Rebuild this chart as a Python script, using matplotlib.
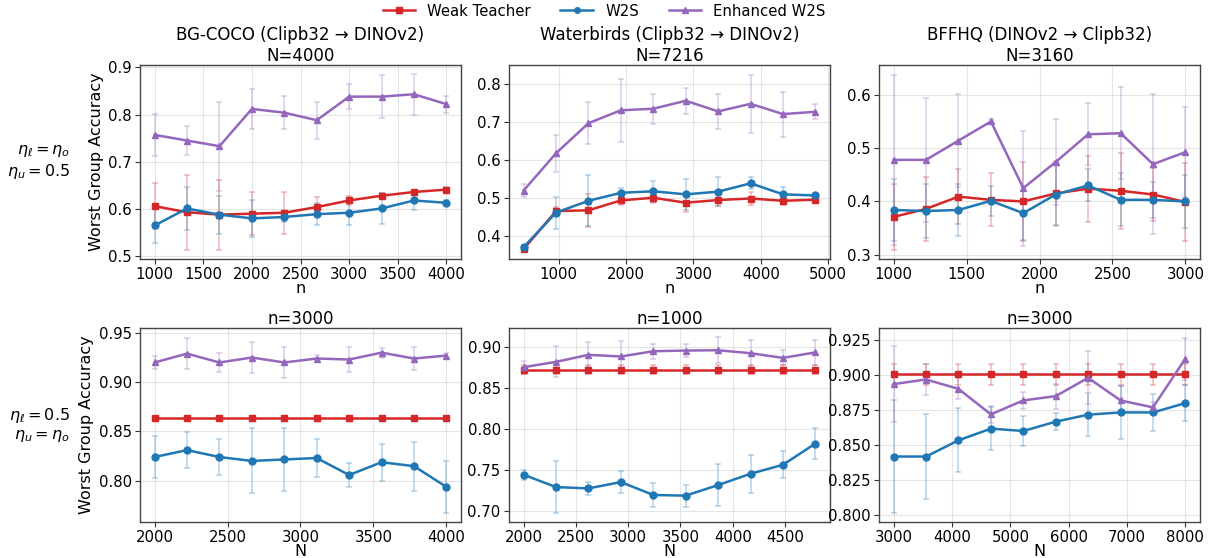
import numpy as np
import matplotlib
matplotlib.use("Agg")
import matplotlib.pyplot as plt
from matplotlib.lines import Line2D

# ---------------- data ----------------
# Top row (x = n)
bg_n = [1000, 1333, 1667, 2000, 2333, 2667, 3000, 3333, 3667, 4000]
bg_weak = [0.606, 0.593, 0.588, 0.590, 0.592, 0.604, 0.618, 0.628, 0.636, 0.641]
bg_weak_err = [0.048, 0.080, 0.074, 0.046, 0.045, 0.021, 0.010, 0.006, 0.004, 0.005]
bg_w2s = [0.565, 0.601, 0.588, 0.580, 0.583, 0.589, 0.592, 0.601, 0.618, 0.613]
bg_w2s_err = [0.038, 0.045, 0.040, 0.040, 0.010, 0.023, 0.025, 0.033, 0.020, 0.005]
bg_enh = [0.757, 0.745, 0.733, 0.812, 0.804, 0.788, 0.838, 0.838, 0.843, 0.822]
bg_enh_err = [0.044, 0.030, 0.094, 0.042, 0.035, 0.039, 0.027, 0.046, 0.043, 0.018]

wb_n = [481, 962, 1443, 1924, 2405, 2886, 3367, 3848, 4329, 4810]
wb_weak = [0.365, 0.465, 0.467, 0.493, 0.500, 0.487, 0.494, 0.498, 0.492, 0.495]
wb_weak_err = [0.003, 0.012, 0.043, 0.012, 0.013, 0.025, 0.015, 0.018, 0.010, 0.005]
wb_w2s = [0.370, 0.461, 0.492, 0.513, 0.517, 0.509, 0.516, 0.538, 0.509, 0.506]
wb_w2s_err = [0.005, 0.042, 0.067, 0.012, 0.027, 0.041, 0.038, 0.016, 0.020, 0.005]
wb_enh = [0.519, 0.617, 0.696, 0.730, 0.734, 0.755, 0.727, 0.747, 0.720, 0.726]
wb_enh_err = [0.018, 0.048, 0.055, 0.083, 0.040, 0.034, 0.046, 0.076, 0.059, 0.020]

bf_n = [1000, 1222, 1444, 1667, 1889, 2111, 2333, 2556, 2778, 3000]
bf_weak = [0.371, 0.386, 0.409, 0.403, 0.400, 0.415, 0.424, 0.420, 0.413, 0.399]
bf_weak_err = [0.062, 0.060, 0.052, 0.050, 0.074, 0.060, 0.062, 0.071, 0.050, 0.074]
bf_w2s = [0.384, 0.382, 0.384, 0.401, 0.378, 0.413, 0.430, 0.403, 0.403, 0.400]
bf_w2s_err = [0.058, 0.050, 0.048, 0.028, 0.050, 0.060, 0.030, 0.050, 0.034, 0.050]
bf_enh = [0.478, 0.478, 0.514, 0.550, 0.425, 0.474, 0.526, 0.528, 0.470, 0.4925]
bf_enh_err = [0.160, 0.116, 0.087, 0.005, 0.108, 0.080, 0.058, 0.086, 0.131, 0.085]

# Bottom row (x = N)
bg_N = [2000, 2222, 2444, 2667, 2889, 3111, 3333, 3556, 3778, 4000]
bg2_weak = [0.864] * 10
bg2_weak_err = [0.002] * 10
bg2_w2s = [0.824, 0.831, 0.824, 0.820, 0.8215, 0.823, 0.8057, 0.8187, 0.8147, 0.7936]
bg2_w2s_err = [0.021, 0.018, 0.018, 0.033, 0.032, 0.019, 0.012, 0.019, 0.025, 0.026]
bg2_enh = [0.920, 0.929, 0.920, 0.925, 0.920, 0.924, 0.923, 0.930, 0.924, 0.927]
bg2_enh_err = [0.007, 0.016, 0.010, 0.016, 0.016, 0.004, 0.013, 0.005, 0.012, 0.003]

wb_N = [2000, 2310, 2620, 2930, 3240, 3550, 3860, 4170, 4480, 4790]
wb2_weak = [0.8722] * 10
wb2_weak_err = [0.005] * 10
wb2_w2s = [0.7444, 0.7294, 0.7278, 0.7355, 0.7198, 0.7190, 0.7319, 0.7456, 0.7565, 0.7823]
wb2_w2s_err = [0.006, 0.032, 0.008, 0.013, 0.015, 0.0135, 0.025, 0.023, 0.0165, 0.019]
wb2_enh = [0.875, 0.8815, 0.890, 0.888, 0.8944, 0.8952, 0.8956, 0.892, 0.8863, 0.893]
wb2_enh_err = [0.008, 0.019, 0.015, 0.019, 0.009, 0.008, 0.016, 0.016, 0.009, 0.015]

bf_N = [3000, 3556, 4111, 4667, 5222, 5778, 6333, 6889, 7444, 8000]
bf2_weak = [0.9005] * 10
bf2_weak_err = [0.0077] * 10
bf2_w2s = [0.8417, 0.8417, 0.8533, 0.8617, 0.8600, 0.8667, 0.8717, 0.8733, 0.8733, 0.8800]
bf2_w2s_err = [0.0407, 0.0307, 0.023, 0.0155, 0.0105, 0.006, 0.0152, 0.0188, 0.0133, 0.013]
bf2_enh = [0.8936, 0.8969, 0.8902, 0.8719, 0.8819, 0.8850, 0.8981, 0.8819, 0.8769, 0.9119]
bf2_enh_err = [0.027, 0.011, 0.0075, 0.006, 0.006, 0.009, 0.019, 0.010, 0.004, 0.015]

col_titles = ["BG-COCO (Clipb32 \u2192 DINOv2)", "Waterbirds (Clipb32 \u2192 DINOv2)",
              "BFFHQ (DINOv2 \u2192 Clipb32)"]
top_sub = ["N=4000", "N=7216", "N=3160"]
bot_sub = ["n=3000", "n=1000", "n=3000"]
row_labels = ["$\\eta_\\ell = \\eta_o$\n$\\eta_u = 0.5$", "$\\eta_\\ell = 0.5$\n$\\eta_u = \\eta_o$"]
series_names = ["Weak Teacher", "W2S", "Enhanced W2S"]

# ---------------- style ----------------
colors = ["#d62728", "#1f77b4", "#9467bd"]
markers = ["s", "o", "^"]

panels = [
    (bg_n, [(bg_weak, bg_weak_err), (bg_w2s, bg_w2s_err), (bg_enh, bg_enh_err)], (0.494, 0.905)),
    (wb_n, [(wb_weak, wb_weak_err), (wb_w2s, wb_w2s_err), (wb_enh, wb_enh_err)], (0.339, 0.849)),
    (bf_n, [(bf_weak, bf_weak_err), (bf_w2s, bf_w2s_err), (bf_enh, bf_enh_err)], (0.292, 0.656)),
    (bg_N, [(bg2_weak, bg2_weak_err), (bg2_w2s, bg2_w2s_err), (bg2_enh, bg2_enh_err)], (0.758, 0.955)),
    (wb_N, [(wb2_weak, wb2_weak_err), (wb2_w2s, wb2_w2s_err), (wb2_enh, wb2_enh_err)], (0.687, 0.9226)),
    (bf_N, [(bf2_weak, bf2_weak_err), (bf2_w2s, bf2_w2s_err), (bf2_enh, bf2_enh_err)], (0.7948, 0.9338)),
]

W, H = 1214, 558
fig = plt.figure(figsize=(W / 100, H / 100), dpi=100)

col_x = [(140, 461), (509, 830), (879, 1200)]
row_y = [(65, 259), (328, 522)]

for i, (xs, series, ylim) in enumerate(panels):
    r, c = divmod(i, 3)
    x0, x1 = col_x[c]
    yt, yb = row_y[r]
    ax = fig.add_axes([x0 / W, 1 - yb / H, (x1 - x0) / W, (yb - yt) / H])
    for (ys, es), col, mk in zip(series, colors, markers):
        ax.errorbar(xs, ys, yerr=es, fmt="none", ecolor=col, alpha=0.3,
                    elinewidth=1.2, capsize=2, capthick=1.2, zorder=2)
        ax.plot(xs, ys, color=col, marker=mk, markersize=5, linewidth=1.8, zorder=3)
    ax.set_ylim(*ylim)
    ax.grid(True, color="#cccccc", alpha=0.5, linewidth=0.8)
    ax.set_axisbelow(True)
    ax.tick_params(labelsize=10.7, length=3.5, pad=2.5, color="#333333")
    for s in ax.spines.values():
        s.set_color("#444444")
        s.set_linewidth(1.0)
    if r == 0:
        ax.set_title(col_titles[c] + "\n" + top_sub[c], fontsize=12, pad=3, linespacing=1.2)
        ax.set_xlabel("n", fontsize=11.5, labelpad=-1)
    else:
        ax.set_title(bot_sub[c], fontsize=12, pad=3)
        ax.set_xlabel("N", fontsize=11.5, labelpad=-1)
    if c == 0:
        ax.set_ylabel("Worst Group Accuracy", fontsize=11.5, labelpad=3)

for r, lab in enumerate(row_labels):
    yt, yb = row_y[r]
    fig.text(70 / W, 1 - (yt + yb) / 2 / H, lab, ha="right", va="center",
             fontsize=11.5, multialignment="right")

handles = [Line2D([0], [0], color=col, marker=mk, markersize=4, linewidth=1.8)
           for col, mk in zip(colors, markers)]
fig.legend(handles, series_names, loc="center", bbox_to_anchor=(604 / W, 1 - 11 / H),
           ncol=3, frameon=False, fontsize=10.7, handlelength=2.2, columnspacing=2.0)

fig.savefig("out.png", dpi=100)
